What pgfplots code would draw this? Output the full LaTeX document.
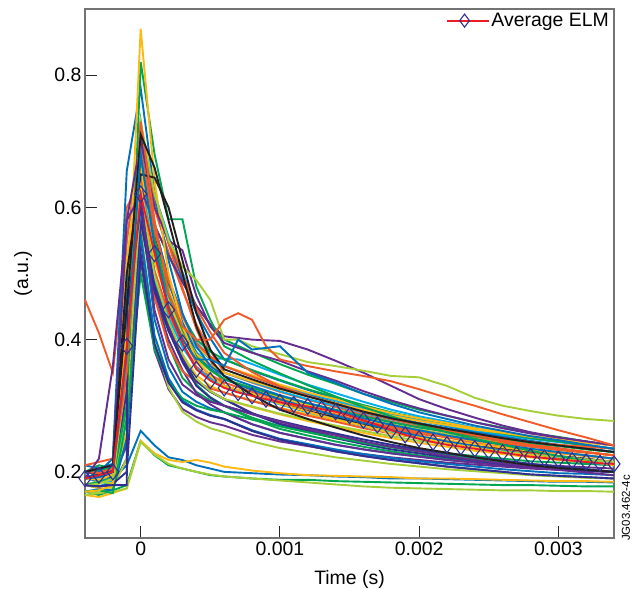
\documentclass[border=0pt]{standalone}
\usepackage{fontspec}
\setmainfont{Liberation Sans}
\usepackage{pgfplots}
\pgfplotsset{compat=1.18}
\definecolor{cOR}{RGB}{241,90,41}
\definecolor{cBL}{RGB}{0,114,188}
\definecolor{cGR}{RGB}{0,166,81}
\definecolor{cGO}{RGB}{253,185,19}
\definecolor{cPU}{RGB}{102,45,145}
\definecolor{cCY}{RGB}{0,174,239}
\definecolor{cLI}{RGB}{166,206,57}
\definecolor{cBK}{RGB}{35,31,32}
\definecolor{cNV}{RGB}{46,49,146}
\definecolor{cRD}{RGB}{237,28,36}
\newcommand\elm[2]{\addplot[#1,forget plot] coordinates {#2};}
\begin{document}
\begin{tikzpicture}
\path[use as bounding box] (-85bp,-52bp) rectangle (552bp,538bp);
\begin{axis}[
 at={(0,0)}, anchor=south west,
 scale only axis, width=529bp, height=529bp,
 xmin=-4, xmax=34, ymin=0.1, ymax=0.9,
 xtick={0,10,20,30}, xticklabels={0,0.001,0.002,0.003},
 ytick={0.2,0.4,0.6,0.8},
 yticklabels={0.2,0.4,0.6,0.8},
 tick align=inside, xtick pos=bottom, ytick pos=left,
 major tick length=12bp,
 tick style={black!85, line width=0.9bp},
 axis line style={black!55, line width=1.1bp},
 font=\fontsize{19.5}{23}\selectfont,
 /pgf/number format/assume math mode=true,
 xlabel={Time (s)}, ylabel={(a.u.)},
 every axis x label/.style={at={(axis description cs:0.5,-0.0888)},anchor=base},
 every axis y label/.style={at={(axis description cs:-0.1172,0.5)},rotate=90,anchor=center},
 clip=false,
 every axis plot/.append style={line width=1.9bp},
 legend style={at={(1,1)}, anchor=north east, draw=none, fill=none},
 legend cell align=left,
 legend image code/.code={\draw[mark repeat=2,mark phase=2,#1,mark size=6.5bp] plot coordinates {(0bp,0bp)(18bp,0bp)(36bp,0bp)};\path (36bp,0bp) -- (42bp,0bp);},
]
% low-peak group
\elm{cBL}{(-4,.190)(-3,.195)(-2,.190)(-1,.210)(0,.262)(1,.240)(2,.222)(3,.218)(4,.210)(5,.205)(6,.200)(8,.198)(10,.196)(12,.195)(14,.193)(16,.192)(18,.190)(20,.190)(22,.189)(24,.188)(26,.187)(28,.186)(30,.185)(32,.185)(34,.184)}
\elm{cGR}{(-4,.170)(-3,.165)(-2,.172)(-1,.180)(0,.247)(1,.225)(2,.210)(3,.205)(4,.200)(5,.195)(6,.193)(8,.190)(10,.188)(12,.188)(14,.186)(16,.185)(18,.184)(20,.183)(22,.182)(24,.181)(26,.180)(28,.180)(30,.179)(32,.178)(34,.178)}
\elm{cGO}{(-4,.165)(-3,.162)(-2,.168)(-1,.175)(0,.247)(1,.228)(2,.218)(3,.215)(4,.218)(5,.214)(6,.208)(8,.202)(10,.198)(12,.195)(14,.194)(16,.193)(18,.192)(20,.190)(22,.190)(24,.189)(26,.188)(28,.187)(30,.186)(32,.186)(34,.185)}
\elm{cLI}{(-4,.165)(-3,.168)(-2,.170)(-1,.175)(0,.245)(1,.226)(2,.212)(3,.205)(4,.200)(5,.196)(6,.193)(8,.190)(10,.187)(12,.184)(14,.181)(16,.178)(18,.176)(20,.175)(22,.174)(24,.173)(26,.172)(28,.172)(30,.171)(32,.171)(34,.170)}
% main cluster
\elm{cOR}{(-4,.190)(-3,.195)(-2,.188)(-1,.300)(0,.620)(1,.504)(2,.440)(3,.394)(4,.359)(5,.342)(6,.330)(8,.317)(10,.305)(12,.297)(14,.284)(16,.271)(18,.265)(20,.257)(22,.253)(24,.244)(26,.239)(28,.231)(30,.229)(32,.224)(34,.220)}
\elm{cBL}{(-4,.200)(-3,.205)(-2,.210)(-1,.480)(0,.710)(1,.570)(2,.493)(3,.437)(4,.395)(5,.374)(6,.360)(8,.344)(10,.330)(12,.317)(14,.305)(16,.294)(18,.283)(20,.274)(22,.266)(24,.259)(26,.252)(28,.246)(30,.240)(32,.235)(34,.230)}
\elm{cGR}{(-4,.180)(-3,.176)(-2,.185)(-1,.250)(0,.720)(1,.489)(2,.392)(3,.342)(4,.321)(5,.308)(6,.300)(8,.280)(10,.265)(12,.255)(14,.246)(16,.238)(18,.231)(20,.225)(22,.220)(24,.215)(26,.211)(28,.207)(30,.204)(32,.202)(34,.200)}
\elm{cGO}{(-4,.170)(-3,.172)(-2,.178)(-1,.360)(0,.600)(1,.484)(2,.420)(3,.374)(4,.339)(5,.322)(6,.310)(8,.298)(10,.287)(12,.277)(14,.268)(16,.259)(18,.251)(20,.244)(22,.238)(24,.232)(26,.227)(28,.222)(30,.218)(32,.214)(34,.210)}
\elm{cPU}{(-4,.182)(-3,.178)(-2,.180)(-1,.220)(0,.550)(1,.402)(2,.339)(3,.307)(4,.294)(5,.285)(6,.280)(8,.262)(10,.249)(12,.240)(14,.231)(16,.224)(18,.218)(20,.213)(22,.208)(24,.204)(26,.200)(28,.196)(30,.194)(32,.192)(34,.190)}
\elm{cCY}{(-4,.198)(-3,.205)(-2,.212)(-1,.550)(0,.700)(1,.620)(2,.556)(3,.502)(4,.450)(5,.372)(6,.371)(7,.370)(8,.363)(10,.347)(12,.332)(14,.319)(16,.306)(18,.294)(20,.284)(22,.276)(24,.267)(26,.260)(28,.252)(30,.247)(32,.241)(34,.235)}
\elm{cLI}{(-4,.190)(-3,.192)(-2,.200)(-1,.420)(0,.660)(1,.532)(2,.462)(3,.410)(4,.372)(5,.353)(6,.340)(8,.326)(10,.314)(12,.302)(14,.292)(16,.281)(18,.272)(20,.264)(22,.257)(24,.250)(26,.245)(28,.239)(30,.234)(32,.230)(34,.225)}
\elm{cBK}{(-4,.200)(-3,.198)(-2,.205)(-1,.400)(0,.710)(1,.558)(2,.474)(3,.414)(4,.368)(5,.345)(6,.330)(8,.316)(10,.304)(12,.292)(14,.282)(16,.271)(18,.262)(20,.254)(22,.247)(24,.240)(26,.235)(28,.229)(30,.224)(32,.220)(34,.215)}
\elm{cOR}{(-4,.180)(-3,.183)(-2,.190)(-1,.280)(0,.680)(1,.598)(2,.532)(3,.475)(4,.423)(5,.383)(6,.350)(8,.335)(10,.321)(12,.309)(14,.298)(16,.286)(18,.276)(20,.268)(22,.260)(24,.253)(26,.246)(28,.240)(30,.235)(32,.230)(34,.225)}
\elm{cBL}{(-4,.190)(-3,.186)(-2,.195)(-1,.330)(0,.600)(1,.430)(2,.358)(3,.321)(4,.306)(5,.296)(6,.290)(8,.272)(10,.259)(12,.250)(14,.241)(16,.234)(18,.228)(20,.223)(22,.218)(24,.214)(26,.210)(28,.206)(30,.204)(32,.202)(34,.200)}
\elm{cGR}{(-4,.200)(-3,.210)(-2,.205)(-1,.500)(0,.630)(1,.573)(2,.527)(3,.487)(4,.451)(5,.423)(6,.400)(8,.381)(10,.363)(12,.347)(14,.333)(16,.318)(18,.306)(20,.294)(22,.285)(24,.275)(26,.267)(28,.259)(30,.253)(32,.246)(34,.240)}
\elm{cGO}{(-4,.180)(-3,.185)(-2,.182)(-1,.260)(0,.580)(1,.476)(2,.419)(3,.377)(4,.346)(5,.330)(6,.320)(8,.308)(10,.297)(12,.287)(14,.278)(16,.269)(18,.261)(20,.254)(22,.248)(24,.242)(26,.237)(28,.232)(30,.228)(32,.224)(34,.220)}
\elm{cPU}{(-4,.190)(-3,.195)(-2,.190)(-1,.240)(0,.520)(1,.383)(2,.325)(3,.295)(4,.283)(5,.275)(6,.270)(8,.256)(10,.246)(12,.239)(14,.232)(16,.227)(18,.222)(20,.218)(22,.214)(24,.211)(26,.208)(28,.205)(30,.203)(32,.201)(34,.200)}
\elm{cCY}{(-4,.190)(-3,.196)(-2,.200)(-1,.450)(0,.660)(1,.536)(2,.468)(3,.418)(4,.381)(5,.362)(6,.350)(8,.336)(10,.322)(12,.310)(14,.300)(16,.289)(18,.279)(20,.271)(22,.264)(24,.256)(26,.250)(28,.244)(30,.240)(32,.235)(34,.230)}
\elm{cLI}{(-4,.170)(-3,.168)(-2,.175)(-1,.220)(0,.570)(1,.400)(2,.328)(3,.291)(4,.276)(5,.266)(6,.260)(8,.246)(10,.236)(12,.229)(14,.222)(16,.217)(18,.212)(20,.208)(22,.204)(24,.201)(26,.198)(28,.195)(30,.193)(32,.191)(34,.190)}
\elm{cOR}{(-4,.200)(-3,.204)(-2,.198)(-1,.380)(0,.650)(1,.521)(2,.453)(3,.403)(4,.366)(5,.347)(6,.335)(8,.321)(10,.309)(12,.297)(14,.287)(16,.276)(18,.267)(20,.259)(22,.252)(24,.245)(26,.240)(28,.234)(30,.229)(32,.225)(34,.220)}
\elm{cBL}{(-4,.210)(-3,.205)(-2,.212)(-1,.300)(0,.690)(1,.610)(2,.546)(3,.492)(4,.440)(5,.402)(6,.370)(8,.353)(10,.338)(12,.324)(14,.311)(16,.299)(18,.287)(20,.278)(22,.269)(24,.261)(26,.254)(28,.247)(30,.241)(32,.236)(34,.230)}
\elm{cGR}{(-4,.180)(-3,.186)(-2,.183)(-1,.360)(0,.620)(1,.492)(2,.422)(3,.370)(4,.332)(5,.313)(6,.300)(8,.282)(10,.269)(12,.260)(14,.251)(16,.244)(18,.238)(20,.233)(22,.228)(24,.224)(26,.220)(28,.216)(30,.214)(32,.212)(34,.210)}
\elm{cGO}{(-4,.190)(-3,.193)(-2,.200)(-1,.520)(0,.690)(1,.550)(2,.473)(3,.417)(4,.375)(5,.354)(6,.340)(8,.326)(10,.312)(12,.300)(14,.290)(16,.279)(18,.269)(20,.261)(22,.254)(24,.246)(26,.240)(28,.234)(30,.230)(32,.225)(34,.220)}
\elm{cPU}{(-4,.200)(-3,.197)(-2,.202)(-1,.350)(0,.600)(1,.484)(2,.420)(3,.374)(4,.339)(5,.322)(6,.310)(8,.289)(10,.273)(12,.263)(14,.253)(16,.245)(18,.238)(20,.231)(22,.226)(24,.221)(26,.217)(28,.212)(30,.209)(32,.207)(34,.205)}
\elm{cCY}{(-4,.180)(-3,.178)(-2,.186)(-1,.280)(0,.640)(1,.528)(2,.466)(3,.422)(4,.388)(5,.371)(6,.360)(8,.345)(10,.331)(12,.319)(14,.308)(16,.296)(18,.286)(20,.278)(22,.270)(24,.263)(26,.256)(28,.250)(30,.245)(32,.240)(34,.235)}
\elm{cOR}{(-4,.190)(-3,.194)(-2,.188)(-1,.450)(0,.720)(1,.623)(2,.545)(3,.478)(4,.416)(5,.369)(6,.330)(8,.317)(10,.306)(12,.295)(14,.286)(16,.276)(18,.268)(20,.261)(22,.254)(24,.248)(26,.243)(28,.238)(30,.233)(32,.229)(34,.225)}
\elm{cBL}{(-4,.170)(-3,.174)(-2,.172)(-1,.250)(0,.560)(1,.406)(2,.342)(3,.308)(4,.294)(5,.286)(6,.280)(8,.263)(10,.250)(12,.242)(14,.234)(16,.227)(18,.221)(20,.216)(22,.212)(24,.208)(26,.204)(28,.201)(30,.198)(32,.197)(34,.195)}
\elm{cGR}{(-4,.190)(-3,.195)(-2,.198)(-1,.330)(0,.670)(1,.550)(2,.484)(3,.436)(4,.400)(5,.382)(6,.370)(8,.354)(10,.339)(12,.325)(14,.313)(16,.301)(18,.290)(20,.281)(22,.273)(24,.265)(26,.258)(28,.251)(30,.246)(32,.240)(34,.235)}
\elm{cPU}{(-4,.180)(-3,.184)(-2,.190)(-1,.300)(0,.580)(1,.464)(2,.400)(3,.354)(4,.319)(5,.302)(6,.290)(8,.272)(10,.259)(12,.250)(14,.241)(16,.234)(18,.228)(20,.223)(22,.218)(24,.214)(26,.210)(28,.206)(30,.204)(32,.202)(34,.200)}
\elm{cGO}{(-4,.180)(-3,.176)(-2,.184)(-1,.400)(0,.660)(1,.540)(2,.474)(3,.426)(4,.390)(5,.372)(6,.360)(8,.346)(10,.332)(12,.320)(14,.310)(16,.299)(18,.289)(20,.281)(22,.274)(24,.266)(26,.260)(28,.254)(30,.250)(32,.245)(34,.240)}
\elm{cOR}{(-4,.210)(-3,.215)(-2,.220)(-1,.600)(0,.640)(1,.464)(2,.390)(3,.352)(4,.336)(5,.326)(6,.320)(8,.307)(10,.296)(12,.285)(14,.276)(16,.266)(18,.258)(20,.251)(22,.244)(24,.238)(26,.233)(28,.228)(30,.223)(32,.219)(34,.215)}
\elm{cNV}{(-4,.200)(-3,.196)(-2,.200)(-1,.320)(0,.580)(1,.472)(2,.413)(3,.369)(4,.337)(5,.321)(6,.310)(8,.288)(10,.272)(12,.261)(14,.251)(16,.242)(18,.234)(20,.228)(22,.222)(24,.217)(26,.212)(28,.208)(30,.204)(32,.202)(34,.200)}
\elm{cCY}{(-4,.190)(-3,.188)(-2,.194)(-1,.360)(0,.600)(1,.492)(2,.433)(3,.389)(4,.357)(5,.341)(6,.330)(8,.316)(10,.302)(12,.290)(14,.280)(16,.269)(18,.259)(20,.251)(22,.244)(24,.236)(26,.230)(28,.224)(30,.220)(32,.215)(34,.210)}
\elm{cGR}{(-4,.170)(-3,.172)(-2,.168)(-1,.280)(0,.500)(1,.385)(2,.336)(3,.311)(4,.300)(5,.294)(6,.290)(8,.279)(10,.269)(12,.260)(14,.252)(16,.244)(18,.237)(20,.231)(22,.225)(24,.220)(26,.215)(28,.211)(30,.207)(32,.204)(34,.200)}
\elm{cPU}{(-4,.190)(-3,.192)(-2,.198)(-1,.400)(0,.630)(1,.573)(2,.527)(3,.487)(4,.451)(5,.423)(6,.405)(8,.400)(10,.398)(12,.385)(14,.368)(16,.350)(18,.330)(20,.310)(22,.295)(24,.282)(26,.270)(28,.260)(30,.252)(32,.246)(34,.240)}
\elm{cOR}{(-4,.200)(-3,.200)(-2,.205)(-1,.340)(0,.690)(1,.613)(2,.551)(3,.498)(4,.448)(5,.411)(6,.380)(8,.351)(10,.329)(12,.315)(14,.302)(16,.290)(18,.280)(20,.271)(22,.264)(24,.257)(26,.251)(28,.245)(30,.241)(32,.238)(34,.235)}
\elm{cBL}{(-4,.190)(-3,.195)(-2,.190)(-1,.460)(0,.730)(1,.574)(2,.488)(3,.426)(4,.379)(5,.356)(6,.340)(8,.324)(10,.310)(12,.297)(14,.285)(16,.274)(18,.263)(20,.254)(22,.246)(24,.239)(26,.232)(28,.226)(30,.220)(32,.215)(34,.210)}
\elm{cNV}{(-4,.180)(-3,.178)(-2,.182)(-1,.200)(0,.530)(1,.393)(2,.335)(3,.305)(4,.293)(5,.285)(6,.280)(8,.262)(10,.249)(12,.240)(14,.231)(16,.224)(18,.218)(20,.213)(22,.208)(24,.204)(26,.200)(28,.196)(30,.194)(32,.192)(34,.190)}
\elm{cLI}{(-4,.180)(-3,.186)(-2,.182)(-1,.300)(0,.620)(1,.496)(2,.428)(3,.378)(4,.341)(5,.322)(6,.310)(8,.299)(10,.288)(12,.279)(14,.270)(16,.262)(18,.254)(20,.247)(22,.242)(24,.236)(26,.231)(28,.226)(30,.223)(32,.219)(34,.215)}
\elm{cGO}{(-4,.190)(-3,.188)(-2,.196)(-1,.440)(0,.630)(1,.518)(2,.456)(3,.412)(4,.378)(5,.361)(6,.350)(8,.337)(10,.325)(12,.314)(14,.304)(16,.294)(18,.285)(20,.277)(22,.271)(24,.264)(26,.259)(28,.253)(30,.249)(32,.244)(34,.240)}
\elm{cGR}{(-4,.200)(-3,.203)(-2,.207)(-1,.420)(0,.680)(1,.544)(2,.469)(3,.415)(4,.374)(5,.354)(6,.340)(8,.327)(10,.315)(12,.304)(14,.294)(16,.284)(18,.275)(20,.267)(22,.261)(24,.254)(26,.249)(28,.243)(30,.239)(32,.234)(34,.230)}
% distinctive traces
\elm{cOR}{(-4,.460)(-3,.410)(-2,.350)(-1,.550)(0,.700)(1,.564)(2,.489)(3,.435)(4,.394)(5,.374)(6,.360)(8,.344)(10,.329)(12,.315)(14,.303)(16,.291)(18,.280)(20,.271)(22,.263)(24,.255)(26,.248)(28,.241)(30,.236)(32,.230)(34,.225)}
\elm{cBL}{(-4,.190)(-3,.200)(-2,.220)(-1,.655)(0,.780)(1,.620)(2,.520)(3,.440)(4,.390)(5,.360)(6,.345)(8,.330)(10,.316)(12,.304)(14,.293)(16,.281)(18,.271)(20,.263)(22,.255)(24,.248)(26,.241)(28,.235)(30,.230)(32,.225)(34,.220)}
\elm{cGR}{(-4,.180)(-3,.185)(-2,.190)(-1,.300)(0,.820)(1,.680)(2,.582)(3,.582)(4,.480)(5,.430)(6,.390)(8,.368)(10,.349)(12,.331)(14,.314)(16,.298)(18,.284)(20,.271)(22,.260)(24,.250)(26,.241)(28,.232)(30,.224)(32,.217)(34,.210)}
\elm{cGO}{(-4,.170)(-3,.172)(-2,.180)(-1,.420)(0,.870)(1,.640)(2,.500)(3,.420)(4,.370)(5,.345)(6,.330)(8,.318)(10,.303)(12,.291)(14,.279)(16,.270)(18,.258)(20,.252)(22,.243)(24,.237)(26,.229)(28,.225)(30,.219)(32,.216)(34,.210)}
\elm{cPU}{(-4,.200)(-3,.205)(-2,.210)(-1,.580)(0,.700)(1,.600)(2,.550)(3,.535)(4,.466)(5,.420)(6,.395)(8,.380)(10,.368)(12,.352)(14,.338)(16,.322)(18,.308)(20,.296)(22,.285)(24,.275)(26,.266)(28,.258)(30,.252)(32,.246)(34,.240)}
\elm{cLI}{(-4,.180)(-3,.182)(-2,.190)(-1,.350)(0,.730)(1,.620)(2,.550)(3,.510)(4,.490)(5,.460)(6,.400)(7,.400)(8,.390)(10,.378)(12,.366)(14,.360)(16,.353)(18,.345)(20,.343)(22,.330)(24,.312)(26,.300)(28,.292)(30,.285)(32,.280)(34,.277)}
\elm{cBK}{(-4,.190)(-3,.195)(-2,.200)(-1,.500)(0,.650)(1,.645)(2,.600)(3,.520)(4,.440)(5,.385)(6,.355)(8,.340)(10,.326)(12,.314)(14,.303)(16,.291)(18,.281)(20,.273)(22,.265)(24,.258)(26,.251)(28,.245)(30,.240)(32,.235)(34,.230)}
\elm{cNV}{(-4,.180)(-3,.178)(-2,.180)(-1,.180)(-0.95,.450)(0,.600)(1,.480)(2,.414)(3,.366)(4,.330)(5,.312)(6,.300)(8,.288)(10,.277)(12,.267)(14,.258)(16,.249)(18,.241)(20,.234)(22,.228)(24,.222)(26,.217)(28,.212)(30,.208)(32,.204)(34,.200)}
\elm{cOR}{(-4,.200)(-3,.198)(-2,.205)(-1,.350)(0,.730)(1,.580)(2,.470)(3,.420)(4,.400)(5,.400)(6,.430)(7,.440)(8,.430)(9,.390)(10,.370)(12,.360)(14,.352)(16,.345)(18,.337)(20,.325)(22,.312)(24,.300)(26,.287)(28,.275)(30,.263)(32,.252)(34,.240)}
\elm{cPU}{(-4,.190)(-3,.220)(-2,.360)(-1,.580)(0,.620)(1,.444)(2,.370)(3,.332)(4,.316)(5,.306)(6,.300)(8,.287)(10,.276)(12,.265)(14,.256)(16,.246)(18,.238)(20,.231)(22,.224)(24,.218)(26,.213)(28,.208)(30,.203)(32,.199)(34,.195)}
\elm{cBK}{(-4,.200)(-3,.205)(-2,.210)(-1,.450)(0,.710)(1,.660)(2,.580)(3,.500)(4,.420)(5,.370)(6,.345)(8,.316)(10,.294)(12,.280)(14,.267)(16,.255)(18,.245)(20,.236)(22,.229)(24,.222)(26,.216)(28,.210)(30,.206)(32,.203)(34,.200)}
\elm{cBL}{(-4,.190)(-3,.192)(-2,.200)(-1,.380)(0,.680)(1,.540)(2,.450)(3,.400)(4,.370)(5,.370)(6,.360)(7,.400)(8,.385)(10,.390)(12,.350)(14,.335)(16,.318)(18,.303)(20,.290)(22,.280)(24,.270)(26,.262)(28,.254)(30,.248)(32,.241)(34,.235)}
% average
\addplot[cRD, line width=1.8bp, mark=diamond, mark size=8bp, mark options={draw=cNV, line width=1.1bp, fill=none, solid}] coordinates {(-4,.190)(-3,.195)(-2,.200)(-1,.390)(0,.620)(1,.530)(2,.445)(3,.395)(4,.355)(5,.338)(6,.327)(7,.320)(8,.315)(9,.310)(10,.305)(11,.302)(12,.299)(13,.295)(14,.291)(15,.285)(16,.278)(17,.271)(18,.263)(19,.256)(20,.250)(21,.245)(22,.241)(23,.238)(24,.235)(25,.232)(26,.229)(27,.226)(28,.223)(29,.221)(30,.219)(31,.217)(32,.215)(33,.213)(34,.212)};
\addlegendentry{Average ELM}
\end{axis}
\node[rotate=90, font=\fontsize{11.5}{14}\selectfont, inner sep=0pt] at (541bp,30bp) {JG03.462-4c};
\end{tikzpicture}
\end{document}
